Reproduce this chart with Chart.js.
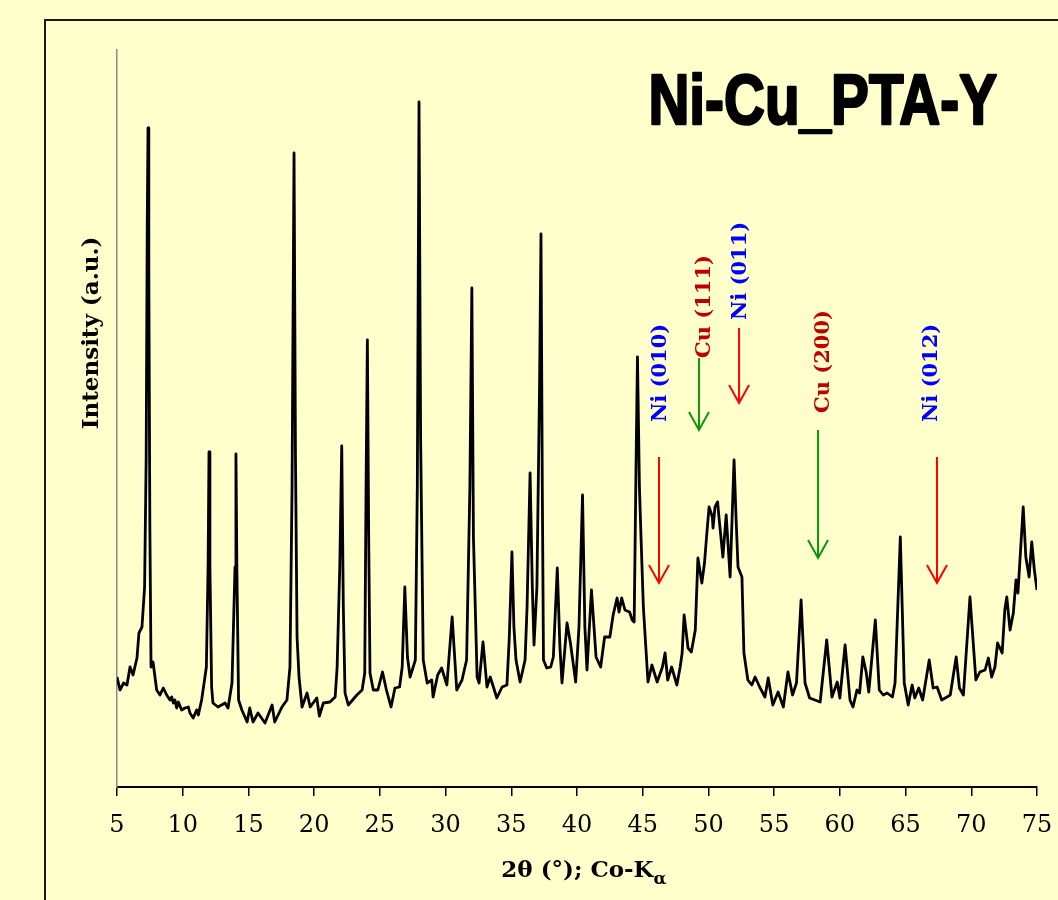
<!DOCTYPE html>
<html>
<head>
<meta charset="utf-8">
<title>Ni-Cu_PTA-Y XRD</title>
<script src="https://cdn.jsdelivr.net/npm/chart.js@4.4.1/dist/chart.umd.min.js"></script>
<style>
    html, body { margin: 0; padding: 0; background: #ffffcc; }
    .chart-wrap { width: 1058px; height: 900px; position: relative; }
</style>
</head>
<body>
<div class="chart-wrap"><canvas id="xrd"></canvas></div>
<script>
// 2theta (deg) and intensity (a.u.)
const twoTheta = [
    5.00, 5.23, 5.50, 5.76, 5.99, 6.22, 6.52, 6.67, 6.90, 7.10, 7.22, 7.30, 7.36, 7.42, 7.50, 7.59, 7.74, 8.02, 8.27, 8.52,
    8.78, 9.03, 9.16, 9.29, 9.41, 9.54, 9.67, 9.92, 10.17, 10.43, 10.55, 10.80, 11.06, 11.19, 11.32, 11.44, 11.80, 11.93, 12.00, 12.07,
    12.20, 12.30, 12.68, 13.22, 13.45, 13.75, 13.98, 14.05, 14.12, 14.25, 14.50, 14.90, 15.10, 15.35, 15.73, 16.26, 16.80, 17.00, 17.55, 17.93,
    18.16, 18.32, 18.47, 18.58, 18.70, 18.85, 19.08, 19.46, 19.70, 20.20, 20.40, 20.70, 21.20, 21.60, 21.75, 21.95, 22.10, 22.22, 22.35, 22.60,
    23.25, 23.65, 23.85, 23.95, 24.05, 24.15, 24.25, 24.50, 24.85, 25.20, 25.50, 25.85, 26.15, 26.50, 26.70, 26.90, 27.10, 27.30, 27.70, 27.85,
    27.98, 28.10, 28.30, 28.60, 28.95, 29.05, 29.40, 29.70, 30.10, 30.50, 30.85, 31.25, 31.60, 31.85, 32.00, 32.12, 32.40, 32.55, 32.85, 33.15,
    33.40, 33.90, 34.30, 34.67, 34.85, 35.05, 35.20, 35.36, 35.67, 36.05, 36.20, 36.43, 36.60, 36.73, 36.95, 37.15, 37.26, 37.36, 37.45, 37.70,
    38.00, 38.20, 38.50, 38.70, 38.86, 39.24, 39.50, 39.90, 40.15, 40.42, 40.60, 40.76, 41.10, 41.45, 41.80, 42.10, 42.50, 42.75, 43.05, 43.20,
    43.40, 43.65, 44.00, 44.20, 44.35, 44.50, 44.60, 44.75, 44.87, 45.05, 45.25, 45.40, 45.70, 46.10, 46.50, 46.70, 46.90, 47.20, 47.60, 47.85,
    48.00, 48.15, 48.45, 48.70, 49.00, 49.20, 49.50, 49.70, 49.90, 50.05, 50.30, 50.35, 50.50, 50.70, 50.80, 51.10, 51.35, 51.65, 51.95, 52.10,
    52.25, 52.55, 52.70, 53.00, 53.30, 53.55, 53.90, 54.30, 54.55, 54.90, 55.30, 55.70, 56.05, 56.40, 56.70, 57.05, 57.35, 57.70, 58.10, 58.50,
    59.00, 59.40, 59.80, 60.00, 60.40, 60.77, 61.00, 61.30, 61.50, 61.75, 62.00, 62.20, 62.70, 63.00, 63.30, 63.60, 64.00, 64.20, 64.60, 64.90,
    65.20, 65.50, 65.70, 66.00, 66.30, 66.80, 67.10, 67.40, 67.75, 68.15, 68.40, 68.85, 69.10, 69.40, 69.90, 70.35, 70.65, 71.05, 71.30, 71.55,
    71.80, 72.00, 72.35, 72.55, 72.70, 72.95, 73.20, 73.40, 73.55, 73.95, 74.15, 74.40, 74.60, 74.80, 75.00
];
const intensity = [
    110, 97, 104, 102, 120, 112, 129, 154, 160, 200, 330, 560, 659, 520, 260, 120, 125, 97, 92, 99,
    92, 87, 90, 84, 87, 79, 85, 77, 79, 80, 74, 69, 77, 72, 80, 87, 120, 220, 335, 220,
    100, 84, 80, 84, 79, 104, 220, 333, 220, 87, 77, 65, 79, 65, 74, 64, 82, 65, 80, 87,
    120, 300, 634, 330, 150, 110, 80, 94, 80, 89, 71, 84, 85, 90, 120, 220, 341, 180, 94, 82,
    92, 97, 114, 300, 447, 250, 114, 97, 97, 115, 97, 80, 99, 100, 120, 200, 130, 110, 127, 300,
    685, 350, 127, 104, 107, 90, 112, 119, 102, 170, 97, 107, 127, 300, 499, 250, 110, 104, 145, 100,
    110, 89, 100, 102, 150, 235, 160, 127, 105, 127, 180, 314, 200, 142, 200, 400, 553, 300, 127, 119,
    120, 130, 219, 140, 104, 164, 144, 105, 160, 292, 160, 117, 197, 130, 120, 150, 150, 172, 189, 175,
    189, 177, 175, 167, 165, 330, 430, 300, 250, 180, 137, 105, 122, 105, 120, 134, 107, 120, 102, 120,
    134, 172, 139, 135, 157, 229, 204, 224, 257, 280, 270, 259, 280, 285, 270, 230, 272, 210, 327, 270,
    220, 210, 134, 107, 102, 110, 100, 90, 109, 82, 95, 80, 115, 92, 104, 187, 104, 89, 87, 85,
    147, 90, 105, 89, 142, 87, 80, 97, 94, 130, 115, 95, 167, 97, 92, 94, 90, 104, 250, 104,
    82, 102, 89, 99, 87, 127, 99, 100, 87, 90, 92, 130, 99, 92, 190, 107, 115, 117, 129, 110,
    120, 144, 134, 177, 190, 157, 174, 207, 194, 280, 230, 210, 245, 217, 197
];

const xTicks = [5, 10, 15, 20, 25, 30, 35, 40, 45, 50, 55, 60, 65, 70, 75];

// reflection markers (label text, where it sits, arrow span in data units)
const markerText = ['Ni (010)', 'Cu (111)', 'Ni (011)', 'Cu (200)', 'Ni (012)'];
const markerTextX = [46.3, 49.6, 52.4, 58.7, 66.9];
const markerTextY = [365, 429, 467, 374, 365];
const arrowX = [46.24, 49.28, 52.33, 58.34, 67.39];
const arrowTop = [330, 429, 459, 357, 330];
const arrowBottom = [204, 357, 384, 229, 204];
const markerColor = ['#0000ff', '#c00000', '#0000ff', '#c00000', '#0000ff'];
const arrowColor = ['#ff0000', '#0a960a', '#ff0000', '#0a960a', '#ff0000'];

const BG = '#ffffcc';

const decorPlugin = {
    id: 'decor',
    beforeDraw(chart) {
        const ctx = chart.ctx;
        ctx.save();
        ctx.fillStyle = BG;
        ctx.fillRect(0, 0, chart.width, chart.height);
        // outer frame, runs off the right and bottom edge
        ctx.strokeStyle = '#1a1a1a';
        ctx.lineWidth = 2;
        ctx.strokeRect(45, 20, chart.width + 100, chart.height + 100);
        ctx.restore();
    },
    afterDraw(chart) {
        const ctx = chart.ctx;
        const xs = chart.scales.x, ys = chart.scales.y;
        const area = chart.chartArea;
        ctx.save();

        // arrows
        arrowX.forEach((v, i) => {
            const px = xs.getPixelForValue(v);
            const y1 = ys.getPixelForValue(arrowTop[i]);
            const y2 = ys.getPixelForValue(arrowBottom[i]);
            ctx.strokeStyle = arrowColor[i];
            ctx.lineWidth = 2;
            ctx.beginPath();
            ctx.moveTo(px, y1);
            ctx.lineTo(px, y2);
            ctx.moveTo(px - 10, y2 - 18);
            ctx.lineTo(px, y2);
            ctx.lineTo(px + 10, y2 - 18);
            ctx.stroke();
        });

        // rotated reflection labels
        ctx.font = 'bold 21px "DejaVu Serif"';
        ctx.textAlign = 'left';
        ctx.textBaseline = 'middle';
        markerText.forEach((t, i) => {
            ctx.save();
            ctx.translate(xs.getPixelForValue(markerTextX[i]), ys.getPixelForValue(markerTextY[i]));
            ctx.rotate(-Math.PI / 2);
            ctx.fillStyle = markerColor[i];
            ctx.fillText(t, 0, 1);
            ctx.restore();
        });

        // sample title, narrow heavy sans
        ctx.save();
        ctx.font = 'bold 70px "Liberation Sans"';
        ctx.fillStyle = '#000';
        ctx.strokeStyle = '#000';
        ctx.lineWidth = 2.5;
        ctx.lineJoin = 'round';
        ctx.textAlign = 'right';
        ctx.textBaseline = 'alphabetic';
        ctx.translate(area.right - 40, area.top + 74);
        ctx.scale(0.81, 1);
        ctx.strokeText('Ni-Cu_PTA-Y', 0, 0);
        ctx.fillText('Ni-Cu_PTA-Y', 0, 0);
        ctx.restore();

        // y axis title
        ctx.save();
        ctx.font = 'bold 23px "DejaVu Serif"';
        ctx.fillStyle = '#000';
        ctx.textAlign = 'center';
        ctx.textBaseline = 'middle';
        ctx.translate(92, 333);
        ctx.rotate(-Math.PI / 2);
        ctx.fillText('Intensity (a.u.)', 0, 0);
        ctx.restore();

        // x axis title with subscript alpha
        ctx.font = 'bold 23px "DejaVu Serif"';
        ctx.fillStyle = '#000';
        ctx.textAlign = 'left';
        ctx.textBaseline = 'alphabetic';
        const main = '2\u03b8 (\u00b0); Co-K';
        const w = ctx.measureText(main).width;
        ctx.font = 'bold 17px "DejaVu Serif"';
        const ws = ctx.measureText('\u03b1').width;
        const left = 584 - (w + ws) / 2;
        ctx.font = 'bold 23px "DejaVu Serif"';
        ctx.fillText(main, left, 877);
        ctx.font = 'bold 17px "DejaVu Serif"';
        ctx.fillText('\u03b1', left + w, 884);

        ctx.restore();
    }
};

function buildPoints() {
    return twoTheta.map((t, i) => ({ x: t, y: intensity[i] }));
}

document.addEventListener('DOMContentLoaded', () => {
    const ctx = document.getElementById('xrd').getContext('2d');
    new Chart(ctx, {
        type: 'line',
        data: {
            datasets: [{
                data: buildPoints(),
                borderColor: '#000',
                borderWidth: 2.8,
                borderJoinStyle: 'round',
                pointRadius: 0,
                tension: 0,
                fill: false
            }]
        },
        options: {
            responsive: true,
            maintainAspectRatio: false,
            animation: false,
            layout: { padding: { top: 50, right: 21, left: 0, bottom: 0 } },
            plugins: { legend: { display: false }, tooltip: { enabled: false }, title: { display: false } },
            scales: {
                x: {
                    type: 'linear',
                    min: 5,
                    max: 75,
                    afterFit: (s) => {
                        s.height = 113;
                        s.paddingLeft = 0;
                        s.paddingRight = 0;
                    },
                    afterBuildTicks: (s) => { s.ticks = xTicks.map(v => ({ value: v })); },
                    ticks: {
                        color: '#000',
                        font: { family: '"DejaVu Serif"', size: 24 },
                        padding: 15,
                        maxRotation: 0,
                        autoSkip: false
                    },
                    grid: { drawOnChartArea: false, drawTicks: true, tickLength: 9, color: '#000', lineWidth: 1.5 },
                    border: { display: true, color: '#000', width: 2 }
                },
                y: {
                    min: 0,
                    max: 737,
                    afterFit: (s) => { s.width = 117; },
                    ticks: { display: false },
                    grid: { display: false, drawTicks: false },
                    border: { display: true, color: '#8a8a8a', width: 1.5 }
                }
            }
        },
        plugins: [decorPlugin]
    });
});
</script>
</body>
</html>
